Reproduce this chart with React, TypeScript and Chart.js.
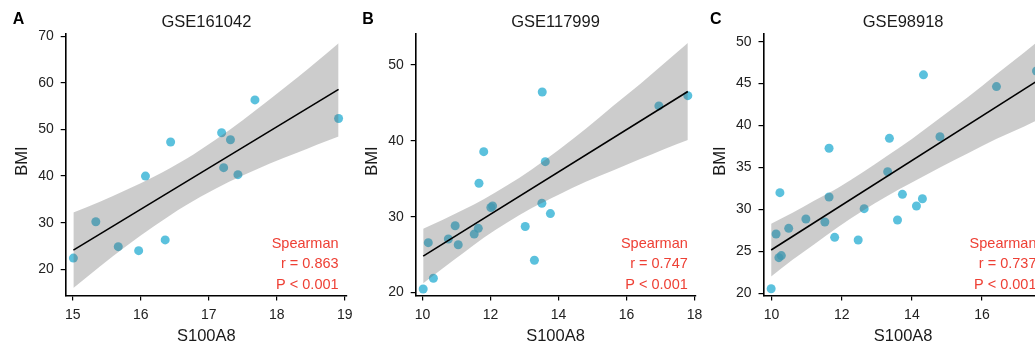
import React, { useEffect, useRef } from 'react';
import { Chart, registerables } from 'chart.js';

Chart.register(...registerables);

const FONT = '"Liberation Sans", Arial, Helvetica, sans-serif';

const xAxisTitle = 'S100A8';
const yAxisTitle = 'BMI';

// ---------- Panel A : GSE161042 ----------
const aX = [15.01, 15.34, 15.67, 15.97, 16.07, 16.36, 16.44, 17.19, 17.32, 17.22, 17.43, 17.68, 18.91];
const aY = [22.4, 30.2, 24.85, 24.0, 40.0, 26.3, 47.3, 49.3, 47.8, 41.8, 40.3, 56.35, 52.35];
const aBandX = [15.01, 15.4, 15.8, 16.2, 16.66, 17.1, 17.5, 17.9, 18.3, 18.6, 18.91];
const aBandHi = [32.2, 34.5, 37.1, 39.9, 43.6, 47.8, 52.0, 56.5, 61.1, 64.7, 68.5];
const aBandLo = [16.0, 20.6, 25.1, 29.3, 33.7, 37.3, 40.1, 42.7, 45.0, 46.8, 48.5];
const aFitX = [15.01, 18.91];
const aFitY = [24.1, 58.6];
const aXTicks = [15, 16, 17, 18, 19];
const aYTicks = [20, 30, 40, 50, 60, 70];
const aRho = 'r = 0.863';

// ---------- Panel B : GSE117999 ----------
const bX = [10.02, 10.32, 10.17, 10.76, 10.96, 11.05, 11.52, 11.64, 11.66, 11.8, 12.01, 12.06, 13.02, 13.29, 13.52, 13.51, 13.61, 13.76, 16.95, 17.8];
const bY = [20.46, 21.87, 26.57, 27.05, 28.8, 26.3, 27.7, 28.46, 34.4, 38.57, 31.2, 31.4, 28.7, 24.25, 46.44, 31.76, 37.25, 30.4, 44.6, 45.96];
const bBandX = [10.02, 10.6, 11.2, 11.8, 12.48, 13.2, 14.0, 14.8, 15.6, 16.4, 17.1, 17.8];
const bBandHi = [28.4, 29.6, 30.9, 32.3, 34.1, 36.2, 38.8, 41.6, 44.6, 47.5, 50.2, 52.9];
const bBandLo = [21.2, 23.2, 25.2, 27.2, 29.2, 31.1, 32.9, 34.6, 36.1, 37.6, 38.9, 40.1];
const bFitX = [10.02, 17.8];
const bFitY = [24.8, 46.5];
const bXTicks = [10, 12, 14, 16, 18];
const bYTicks = [20, 30, 40, 50];
const bRho = 'r = 0.747';

// ---------- Panel C : GSE98918 ----------
const cX = [9.99, 10.13, 10.24, 10.21, 10.28, 10.49, 10.98, 11.52, 11.64, 11.64, 11.8, 12.47, 12.64, 13.31, 13.36, 13.59, 13.73, 14.13, 14.3, 14.33, 14.8, 16.41, 17.55];
const cY = [20.55, 27.07, 32.0, 24.25, 24.5, 27.75, 28.86, 28.5, 37.29, 31.48, 26.67, 26.36, 30.09, 34.5, 38.48, 28.74, 31.8, 30.41, 31.28, 46.05, 38.67, 44.65, 46.5];
const cBandX = [9.99, 10.6, 11.2, 11.9, 12.59, 13.3, 14.0, 14.8, 15.6, 16.4, 17.2, 17.55];
const cBandHi = [28.3, 29.6, 31.0, 32.6, 34.4, 36.4, 38.4, 40.9, 43.4, 46.1, 48.7, 49.9];
const cBandLo = [22.0, 24.0, 25.8, 27.9, 29.8, 31.6, 33.2, 35.0, 36.7, 38.4, 39.9, 40.6];
const cFitX = [9.99, 17.55];
const cFitY = [25.16, 45.26];
const cXTicks = [10, 12, 14, 16];
const cYTicks = [20, 25, 30, 35, 40, 45, 50];
const cRho = 'r = 0.737';

const pText = 'P < 0.001';
const methodText = 'Spearman';

type Panel = {
  letter: string;
  title: string;
  left: number;
  width: number;
  plotRight: number;
  yAxisWidth: number;
  letterX: number;
  xs: number[];
  ys: number[];
  bandX: number[];
  bandHi: number[];
  bandLo: number[];
  fitX: number[];
  fitY: number[];
  xTicks: number[];
  yTicks: number[];
  xMin: number;
  xMax: number;
  yMin: number;
  yMax: number;
  rho: string;
};

const panels: Panel[] = [
  {
    letter: 'A', title: 'GSE161042', left: 0, width: 360, plotRight: 347, yAxisWidth: 65.7, letterX: 12.7,
    xs: aX, ys: aY, bandX: aBandX, bandHi: aBandHi, bandLo: aBandLo, fitX: aFitX, fitY: aFitY,
    xTicks: aXTicks, yTicks: aYTicks, xMin: 14.897, xMax: 19.034, yMin: 14.37, yMax: 70.64, rho: aRho,
  },
  {
    letter: 'B', title: 'GSE117999', left: 345, width: 365, plotRight: 350.3, yAxisWidth: 70.7, letterX: 17.3,
    xs: bX, ys: bY, bandX: bBandX, bandHi: bBandHi, bandLo: bBandLo, fitX: bFitX, fitY: bFitY,
    xTicks: bXTicks, yTicks: bYTicks, xMin: 9.8, xMax: 18.02, yMin: 19.6, yMax: 54.18, rho: bRho,
  },
  {
    letter: 'C', title: 'GSE98918', left: 690, width: 365, plotRight: 352.8, yAxisWidth: 73.5, letterX: 20,
    xs: cX, ys: cY, bandX: cBandX, bandHi: cBandHi, bandLo: cBandLo, fitX: cFitX, fitY: cFitY,
    xTicks: cXTicks, yTicks: cYTicks, xMin: 9.772, xMax: 17.73, yMin: 19.74, yMax: 51.0, rho: cRho,
  },
];

const H = 347;
const PLOT_TOP = 33.3;
const PLOT_BOTTOM = 295.5;

const zip = (xs: number[], ys: number[]) => xs.map((x, i) => ({ x, y: ys[i] }));

function ScatterPanel({ p }: { p: Panel }) {
  const ref = useRef<HTMLCanvasElement | null>(null);

  useEffect(() => {
    if (!ref.current) return;
    const textPlugin = {
      id: 'panelText',
      afterDraw(chart: any) {
        const { ctx, chartArea } = chart;
        const cx = (chartArea.left + chartArea.right) / 2;
        ctx.save();
        ctx.textBaseline = 'alphabetic';
        // panel letter
        ctx.fillStyle = '#000';
        ctx.font = `bold 16px ${FONT}`;
        ctx.textAlign = 'left';
        ctx.fillText(p.letter, p.letterX, 23.5);
        // title
        ctx.fillStyle = '#1a1a1a';
        ctx.font = `16.5px ${FONT}`;
        ctx.textAlign = 'center';
        ctx.fillText(p.title, cx, 27);
        // x title
        ctx.fillText(xAxisTitle, cx, 341);
        // y title
        ctx.save();
        ctx.translate(chartArea.left - 38.5, 161);
        ctx.rotate(-Math.PI / 2);
        ctx.fillText(yAxisTitle, 0, 0);
        ctx.restore();
        // stats
        ctx.fillStyle = '#ee4035';
        ctx.font = `14.5px ${FONT}`;
        ctx.textAlign = 'right';
        const rx = chart.scales.x.getPixelForValue(Math.max(...p.xs));
        [methodText, p.rho, pText].forEach((t, i) => ctx.fillText(t, rx, 247.5 + i * 20.5));
        ctx.restore();
      },
    };

    const tickFont = { family: FONT, size: 14 };
    const chart = new Chart(ref.current, {
      type: 'scatter',
      data: {
        datasets: [
          {
            type: 'scatter',
            data: zip(p.xs, p.ys),
            backgroundColor: 'rgba(50,178,212,0.8)',
            borderWidth: 0,
            pointRadius: 4.5,
            order: 3,
          } as any,
          {
            type: 'line',
            data: zip(p.bandX, p.bandHi),
            borderColor: 'transparent',
            borderWidth: 0,
            pointRadius: 0,
            backgroundColor: 'rgba(100,100,100,0.33)',
            fill: '+1',
            cubicInterpolationMode: 'monotone',
            order: 1,
          } as any,
          {
            type: 'line',
            data: zip(p.bandX, p.bandLo),
            borderColor: 'transparent',
            borderWidth: 0,
            pointRadius: 0,
            fill: false,
            cubicInterpolationMode: 'monotone',
            order: 2,
          } as any,
          {
            type: 'line',
            data: zip(p.fitX, p.fitY),
            borderColor: '#000',
            borderWidth: 1.6,
            pointRadius: 0,
            fill: false,
            order: 0,
          } as any,
        ],
      },
      options: {
        animation: false,
        responsive: false,
        maintainAspectRatio: false,
        devicePixelRatio: 1,
        events: [],
        layout: { padding: { top: PLOT_TOP, left: 0, bottom: 0, right: p.width - p.plotRight } },
        plugins: {
          legend: { display: false },
          tooltip: { enabled: false },
          title: { display: false },
        },
        scales: {
          x: {
            type: 'linear',
            min: p.xMin,
            max: p.xMax,
            afterBuildTicks: (s: any) => {
              s.ticks = p.xTicks.map((v) => ({ value: v }));
            },
            afterFit: (s: any) => {
              s.height = H - PLOT_BOTTOM;
            },
            grid: { display: true, drawOnChartArea: false, drawTicks: true, tickLength: 5, color: '#000', lineWidth: 1.2 },
            border: { display: true, color: '#000', width: 1.6 },
            ticks: {
              padding: 6,
              font: tickFont,
              color: '#222',
              autoSkip: false,
              maxRotation: 0,
              callback: (v: any) => String(v),
            },
          },
          y: {
            type: 'linear',
            min: p.yMin,
            max: p.yMax,
            afterBuildTicks: (s: any) => {
              s.ticks = p.yTicks.map((v) => ({ value: v }));
            },
            afterFit: (s: any) => {
              s.width = p.yAxisWidth;
            },
            grid: { display: true, drawOnChartArea: false, drawTicks: true, tickLength: 5, color: '#000', lineWidth: 1.2 },
            border: { display: true, color: '#000', width: 1.6 },
            ticks: {
              padding: 7,
              font: tickFont,
              color: '#222',
              autoSkip: false,
              callback: (v: any) => String(v),
            },
          },
        },
      } as any,
      plugins: [textPlugin],
    });
    return () => chart.destroy();
  }, [p]);

  return (
    <canvas
      ref={ref}
      width={p.width}
      height={H}
      style={{ position: 'absolute', left: p.left, top: 0, width: p.width, height: H }}
    />
  );
}

export default function App() {
  return (
    <div
      style={{
        position: 'fixed',
        left: 0,
        top: 0,
        width: 1035,
        height: H,
        overflow: 'hidden',
        background: '#fff',
      }}
    >
      {panels.map((p) => (
        <ScatterPanel key={p.letter} p={p} />
      ))}
    </div>
  );
}
